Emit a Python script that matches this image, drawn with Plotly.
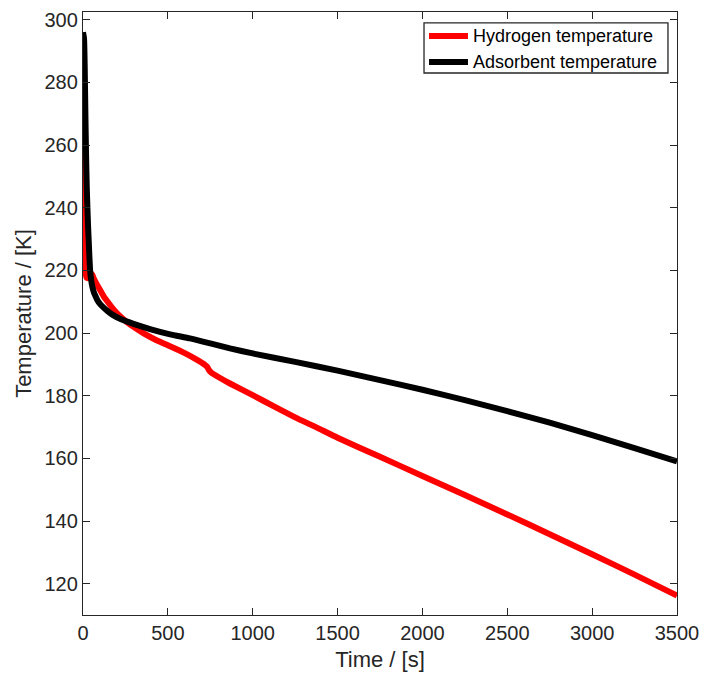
import plotly.graph_objects as go

# Hydrogen gas temperature during cooling
t_h2 = [0, 2, 4, 6, 8, 10, 13, 17, 22, 30, 40, 48, 55, 62, 72, 85, 100, 120, 145,
        175, 210, 257, 300, 360, 430, 513, 600, 680, 720, 732, 742, 755, 800, 866,
        1000, 1125, 1250, 1375, 1500, 1750, 2000, 2250, 2500, 2750, 3000, 3250, 3500]
T_h2 = [296, 280, 262, 248, 236, 227, 221, 218.5, 217.6, 217.6, 218.2, 219.0,
        218.6, 217.6, 216.5, 215.2, 213.8, 211.9, 210.0, 207.9, 205.8, 203.6,
        201.9, 199.8, 197.8, 195.8, 193.6, 191.2, 189.8, 189.2, 188.2, 187.4,
        185.9, 183.9, 180.2, 176.6, 173.1, 169.9, 166.6, 160.5, 154.4, 148.3,
        142.1, 135.8, 129.4, 122.9, 116.2]

# Adsorbent bed temperature
t_ads = [0, 6, 10, 14, 18, 22, 26, 30, 34, 38, 42, 48, 55, 63, 72, 85, 100, 120,
         145, 175, 218, 270, 316, 400, 513, 630, 750, 866, 1000, 1250, 1500, 1750,
         2000, 2250, 2500, 2750, 3000, 3250, 3500]
T_ads = [296, 294, 285, 270, 257, 247, 240, 234, 229, 224, 220, 217, 214.8,
         213.2, 212.0, 210.5, 209.3, 208.2, 207.0, 205.8, 204.6, 203.5, 202.6,
         201.2, 199.6, 198.3, 196.7, 195.1, 193.5, 190.8, 188.0, 185.0, 181.9,
         178.6, 175.1, 171.4, 167.4, 163.3, 159.0]

series = [
    ("Hydrogen temperature", t_h2, T_h2, "#ff0000"),
    ("Adsorbent temperature", t_ads, T_ads, "#000000"),
]

x_ticks = [0, 500, 1000, 1500, 2000, 2500, 3000, 3500]
y_ticks = [120, 140, 160, 180, 200, 220, 240, 260, 280, 300]

FONT = "Arial, Liberation Sans, sans-serif"
AXIS_COLOR = "#262626"
LINE_W = 6

fig = go.Figure()
for name, tx, ty, color in series:
    fig.add_trace(go.Scatter(x=tx, y=ty, mode="lines", name=name, showlegend=False,
                             line=dict(color=color, width=LINE_W, shape="spline", smoothing=0.5)))

axis_common = dict(
    showgrid=False, zeroline=False, showline=True, linecolor=AXIS_COLOR, linewidth=1.3,
    mirror="ticks", ticks="inside", ticklen=7, tickwidth=1.3, tickcolor=AXIS_COLOR,
    tickfont=dict(family=FONT, size=20, color=AXIS_COLOR), automargin=False,
)

fig.update_xaxes(range=[0, 3500], tickvals=x_ticks,
                 title=dict(text="Time / [s]", font=dict(family=FONT, size=22, color=AXIS_COLOR),
                            standoff=8),
                 **axis_common)
fig.update_yaxes(range=[110, 302.5], tickvals=y_ticks,
                 title=dict(text="Temperature / [K]", font=dict(family=FONT, size=22, color=AXIS_COLOR),
                            standoff=6),
                 **axis_common)

# Legend box in the upper-right corner (paper coordinates of the plot area)
box_x0, box_x1, box_y0, box_y1 = 0.5741, 0.9848, 0.8988, 0.9818
sample_x0, sample_x1, text_x = 0.5825, 0.6481, 0.6532
row_y = [0.9602, 0.9171]

shapes = [dict(type="rect", xref="paper", yref="paper", x0=box_x0, x1=box_x1,
               y0=box_y0, y1=box_y1, line=dict(color=AXIS_COLOR, width=1.3),
               fillcolor="white", layer="above")]
annotations = []
for (name, _, _, color), ry in zip(series, row_y):
    shapes.append(dict(type="line", xref="paper", yref="paper", x0=sample_x0, x1=sample_x1,
                       y0=ry, y1=ry, line=dict(color=color, width=LINE_W), layer="above"))
    annotations.append(dict(xref="paper", yref="paper", x=text_x, y=ry, text=name,
                            showarrow=False, xanchor="left", yanchor="middle",
                            font=dict(family=FONT, size=18, color="#000000")))

fig.update_layout(
    width=704, height=680,
    margin=dict(l=83, r=27, t=12, b=65, autoexpand=False),
    plot_bgcolor="white", paper_bgcolor="white",
    font=dict(family=FONT, color=AXIS_COLOR),
    showlegend=False,
    shapes=shapes, annotations=annotations,
)

fig.write_html("out.html")
